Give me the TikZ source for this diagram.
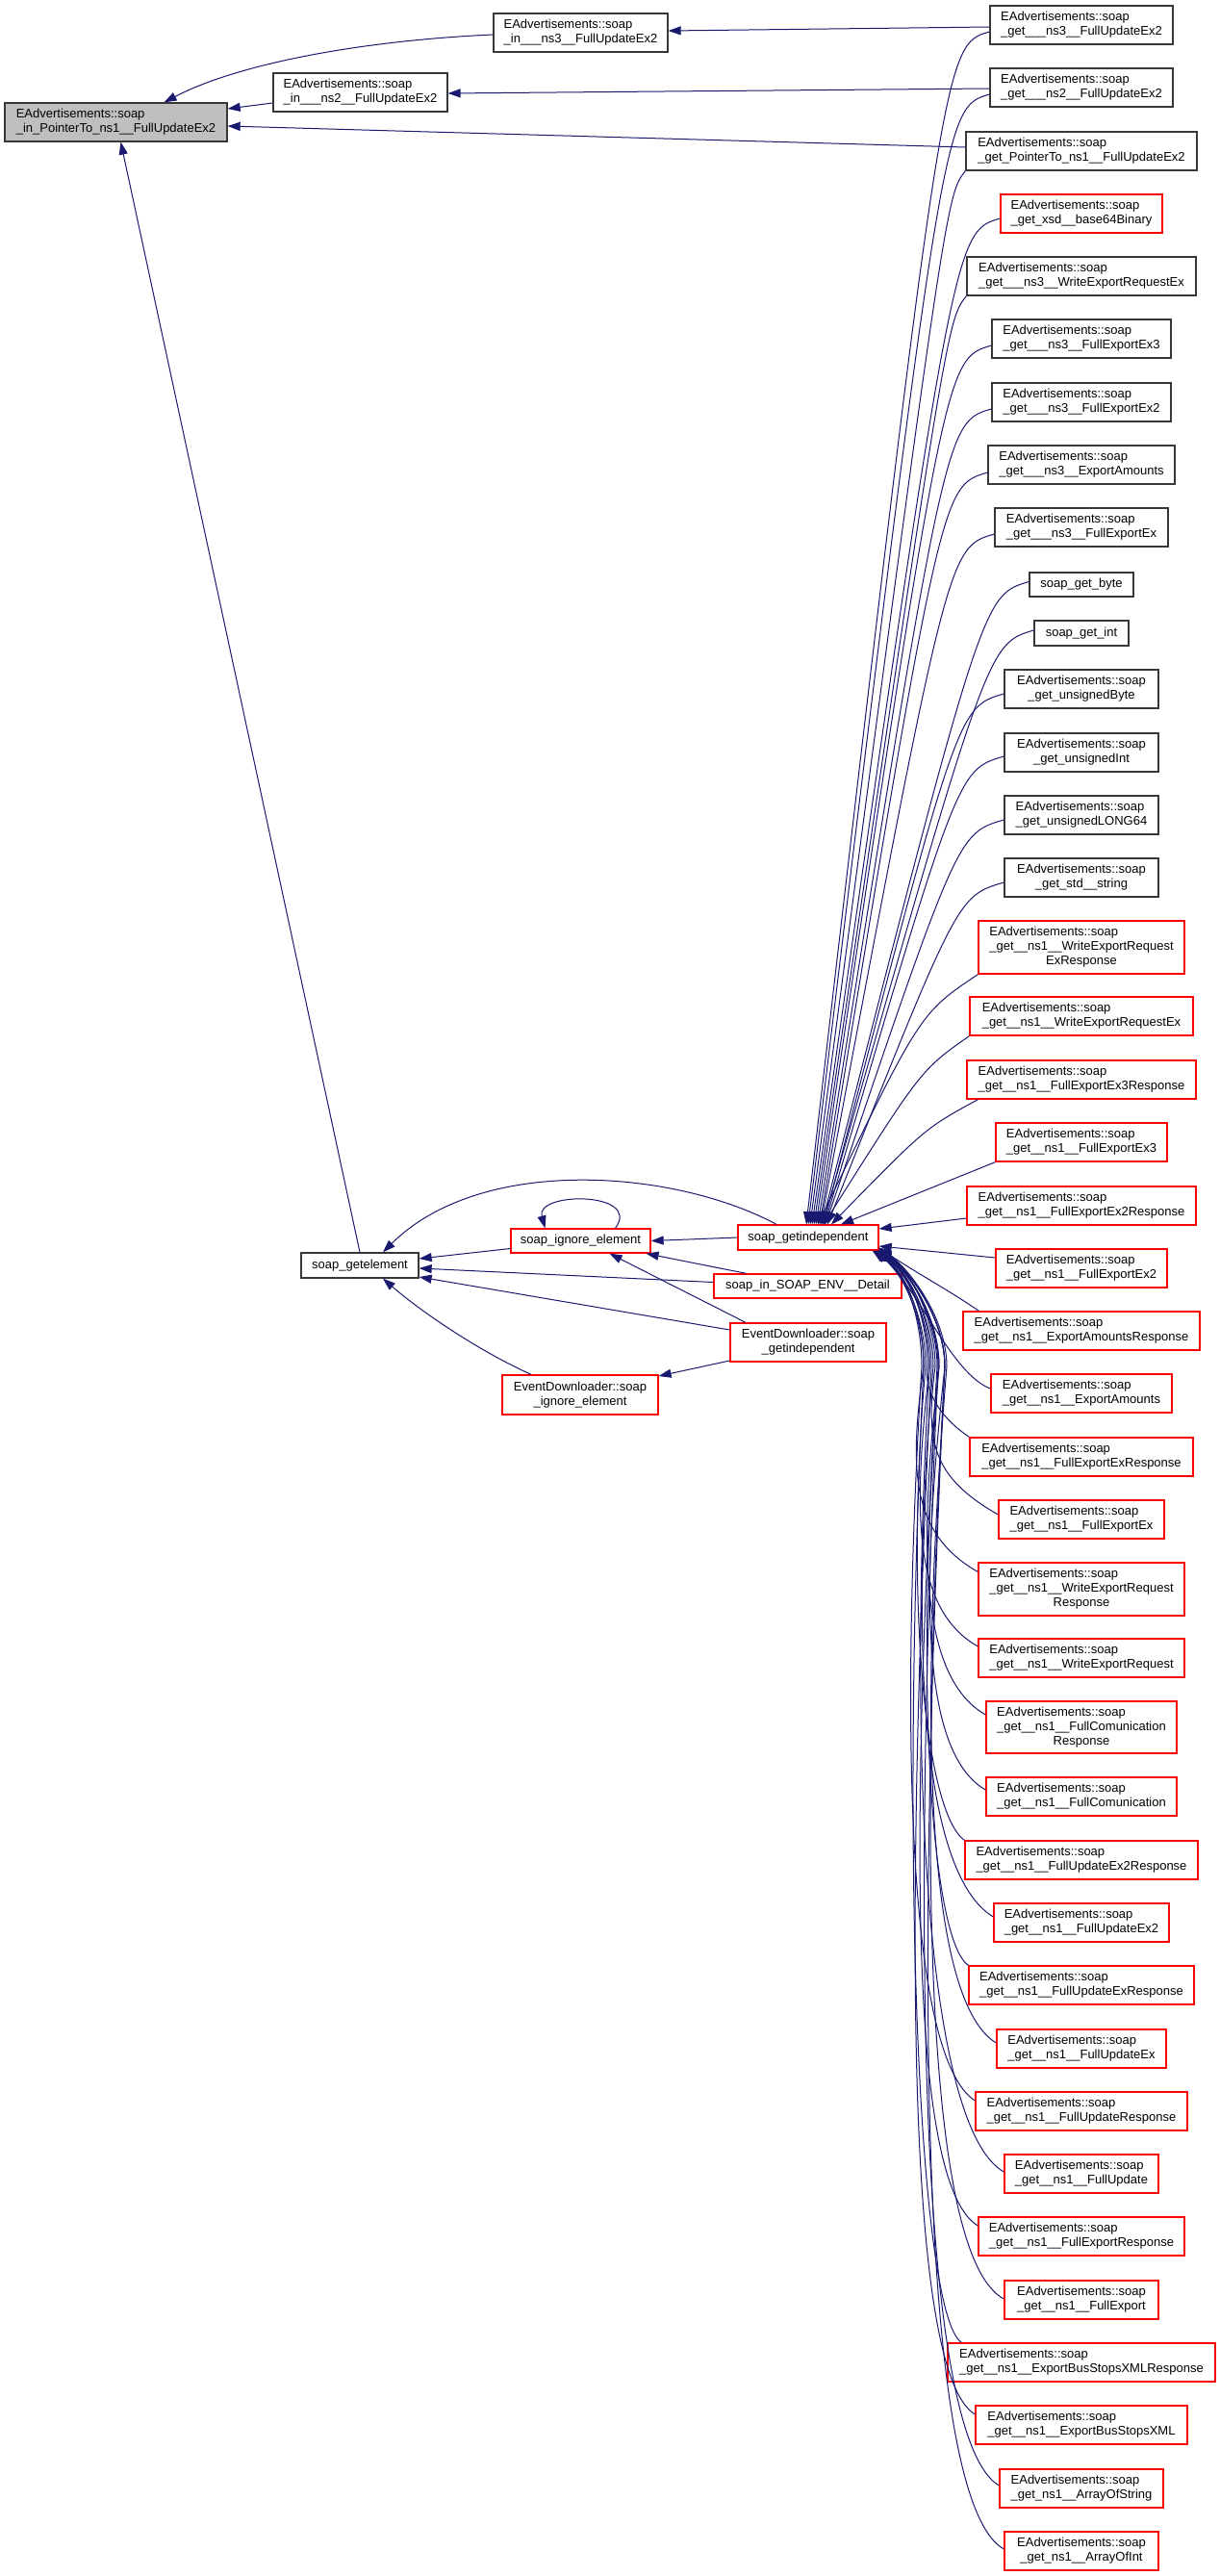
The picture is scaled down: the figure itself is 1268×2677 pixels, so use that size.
\documentclass[tikz,border=0pt]{standalone}
\usepackage{fontspec}
\setmainfont{Liberation Sans}
\usetikzlibrary{arrows.meta,calc}
\definecolor{edgec}{HTML}{191970}
\definecolor{graybox}{HTML}{BFBFBF}
\newcommand{\eaz}[1]{\begin{tabular}{@{}c@{}}\multicolumn{1}{@{}l@{}}{EAdvertisements::soap}\\#1\end{tabular}}
\newcommand{\eazz}[2]{\begin{tabular}{@{}c@{}}\multicolumn{1}{@{}l@{}}{EAdvertisements::soap}\\#1\\#2\end{tabular}}
\newcommand{\edz}[1]{\begin{tabular}{@{}c@{}}EventDownloader::soap\\#1\end{tabular}}
\tikzset{
  box/.style={draw=black!78, line width=1.3pt, rectangle, inner sep=0pt, font=\fontsize{13}{15}\selectfont, minimum height=40pt},
  rbox/.style={box, draw=red},
  edge/.style={draw=edgec, line width=1pt, -{Triangle[length=13pt,width=9pt]}},
}
\newcommand{\upe}[3]{\draw[edge] ([yshift=#2]#1.west) .. controls ($([yshift=#2]#1.west)+(-48,14)$) .. ([xshift=#3]gi.north);}
% #1 start anchor, #2 first control offset, #3 second control, #4 waypoint x, #5 target shift
\newcommand{\lowe}[5]{\draw[edge] (#1) .. controls ($(#1)+#2$) and (#3) .. (#4,1420) .. controls (#4,1372) and ($([#5]gi.south east)+(34,24)$) .. ([#5]gi.south east);}
\begin{document}
\begin{tikzpicture}[x=1pt,y=-1pt]
\fill[white] (0,0) rectangle (1268,2677);
\useasboundingbox (0,0) rectangle (1268,2677);
% left nodes
\node[box, fill=graybox, minimum width=231pt] (main) at (120.5,127) {\eaz{\_in\_PointerTo\_ns1\_\_FullUpdateEx2}};
\node[box, minimum width=181pt] (inns3) at (603.5,34) {\eaz{\_in\_\_\_ns3\_\_FullUpdateEx2}};
\node[box, minimum width=181pt] (inns2) at (374.5,96) {\eaz{\_in\_\_\_ns2\_\_FullUpdateEx2}};
\node[box, minimum width=122pt, minimum height=26pt] (sge) at (374,1315) {soap\_getelement};
\node[rbox, minimum width=145pt, minimum height=25pt] (sie) at (603.5,1289.5) {soap\_ignore\_element};
\node[rbox, minimum width=146pt, minimum height=26pt] (gi) at (840,1286) {soap\_getindependent};
\node[rbox, minimum width=195pt, minimum height=25pt] (det) at (839.5,1336.5) {soap\_in\_SOAP\_ENV\_\_Detail};
\node[rbox, minimum width=162pt] (edgi) at (840,1395) {\edz{\_getindependent}};
\node[rbox, minimum width=162pt, minimum height=41pt] (edie) at (603,1449.5) {\edz{\_ignore\_element}};
% right column
\node[box, minimum width=190pt] (n1) at (1124,26) {\eaz{\_get\_\_\_ns3\_\_FullUpdateEx2}};
\node[box, minimum width=190pt] (n2) at (1124,91) {\eaz{\_get\_\_\_ns2\_\_FullUpdateEx2}};
\node[box, minimum width=240pt] (n3) at (1124,157) {\eaz{\_get\_PointerTo\_ns1\_\_FullUpdateEx2}};
\node[rbox, minimum width=168pt] (n4) at (1124,222) {\eaz{\_get\_xsd\_\_base64Binary}};
\node[box, minimum width=238pt] (n5) at (1124,287) {\eaz{\_get\_\_\_ns3\_\_WriteExportRequestEx}};
\node[box, minimum width=186pt] (n6) at (1124,352) {\eaz{\_get\_\_\_ns3\_\_FullExportEx3}};
\node[box, minimum width=186pt] (n7) at (1124,418) {\eaz{\_get\_\_\_ns3\_\_FullExportEx2}};
\node[box, minimum width=194pt] (n8) at (1124,483) {\eaz{\_get\_\_\_ns3\_\_ExportAmounts}};
\node[box, minimum width=180pt] (n9) at (1124,548) {\eaz{\_get\_\_\_ns3\_\_FullExportEx}};
\node[box, minimum width=108pt, minimum height=25pt] (n10) at (1124,607.5) {soap\_get\_byte};
\node[box, minimum width=98pt, minimum height=26pt] (n11) at (1124,658) {soap\_get\_int};
\node[box, minimum width=160pt] (n12) at (1124,716) {\eaz{\_get\_unsignedByte}};
\node[box, minimum width=160pt] (n13) at (1124,782) {\eaz{\_get\_unsignedInt}};
\node[box, minimum width=160pt] (n14) at (1124,847) {\eaz{\_get\_unsignedLONG64}};
\node[box, minimum width=160pt] (n15) at (1124,912) {\eaz{\_get\_std\_\_string}};
\node[rbox, minimum width=214pt, minimum height=55pt] (n16) at (1124,984.5) {\eazz{\_get\_\_ns1\_\_WriteExportRequest}{ExResponse}};
\node[rbox, minimum width=232pt] (n17) at (1124,1056) {\eaz{\_get\_\_ns1\_\_WriteExportRequestEx}};
\node[rbox, minimum width=238pt] (n18) at (1124,1122) {\eaz{\_get\_\_ns1\_\_FullExportEx3Response}};
\node[rbox, minimum width=178pt] (n19) at (1124,1187) {\eaz{\_get\_\_ns1\_\_FullExportEx3}};
\node[rbox, minimum width=238pt] (n20) at (1124,1253) {\eaz{\_get\_\_ns1\_\_FullExportEx2Response}};
\node[rbox, minimum width=178pt] (n21) at (1124,1318) {\eaz{\_get\_\_ns1\_\_FullExportEx2}};
\node[rbox, minimum width=246pt] (n22) at (1124,1383) {\eaz{\_get\_\_ns1\_\_ExportAmountsResponse}};
\node[rbox, minimum width=188pt] (n23) at (1124,1448) {\eaz{\_get\_\_ns1\_\_ExportAmounts}};
\node[rbox, minimum width=232pt] (n24) at (1124,1514) {\eaz{\_get\_\_ns1\_\_FullExportExResponse}};
\node[rbox, minimum width=172pt] (n25) at (1124,1579) {\eaz{\_get\_\_ns1\_\_FullExportEx}};
\node[rbox, minimum width=214pt, minimum height=55pt] (n26) at (1124,1651.5) {\eazz{\_get\_\_ns1\_\_WriteExportRequest}{Response}};
\node[rbox, minimum width=214pt] (n27) at (1124,1723) {\eaz{\_get\_\_ns1\_\_WriteExportRequest}};
\node[rbox, minimum width=198pt, minimum height=54pt] (n28) at (1124,1795) {\eazz{\_get\_\_ns1\_\_FullComunication}{Response}};
\node[rbox, minimum width=198pt] (n29) at (1124,1867) {\eaz{\_get\_\_ns1\_\_FullComunication}};
\node[rbox, minimum width=242pt] (n30) at (1124,1933) {\eaz{\_get\_\_ns1\_\_FullUpdateEx2Response}};
\node[rbox, minimum width=182pt] (n31) at (1124,1998) {\eaz{\_get\_\_ns1\_\_FullUpdateEx2}};
\node[rbox, minimum width=234pt] (n32) at (1124,2063) {\eaz{\_get\_\_ns1\_\_FullUpdateExResponse}};
\node[rbox, minimum width=176pt] (n33) at (1124,2129) {\eaz{\_get\_\_ns1\_\_FullUpdateEx}};
\node[rbox, minimum width=220pt] (n34) at (1124,2194) {\eaz{\_get\_\_ns1\_\_FullUpdateResponse}};
\node[rbox, minimum width=160pt] (n35) at (1124,2259) {\eaz{\_get\_\_ns1\_\_FullUpdate}};
\node[rbox, minimum width=214pt] (n36) at (1124,2324) {\eaz{\_get\_\_ns1\_\_FullExportResponse}};
\node[rbox, minimum width=160pt] (n37) at (1124,2390) {\eaz{\_get\_\_ns1\_\_FullExport}};
\node[rbox, minimum width=278pt] (n38) at (1124,2455) {\eaz{\_get\_\_ns1\_\_ExportBusStopsXMLResponse}};
\node[rbox, minimum width=220pt] (n39) at (1124,2520) {\eaz{\_get\_\_ns1\_\_ExportBusStopsXML}};
\node[rbox, minimum width=170pt] (n40) at (1124,2586) {\eaz{\_get\_ns1\_\_ArrayOfString}};
\node[rbox, minimum width=160pt] (n41) at (1124,2651) {\eaz{\_get\_ns1\_\_ArrayOfInt}};
% top straight edges
\draw[edge] ([yshift=-2pt]n1.west) -- ([yshift=2pt]inns3.east);
\draw[edge] ([yshift=-1pt]n2.west) -- ([yshift=-1pt]inns2.east);
\draw[edge] ([yshift=4pt]n3.west) -- ([yshift=-4pt]main.east);
\draw[edge] ([yshift=-11pt]inns2.west) -- ([yshift=14pt]main.east);
\draw[edge] ([yshift=-2pt]inns3.west) .. controls (380,42) and (250,65) .. ([xshift=50pt]main.north);
\draw[edge] (sge.north) -- ([xshift=5pt]main.south);
% middle edges
\draw[edge] ([xshift=-33pt]gi.north) .. controls (700,1215) and (500,1200) .. ([xshift=24pt]sge.north);
\draw[edge] (gi.west) -- (sie.east);
\draw[edge] ([xshift=36pt]sie.north) .. controls (668,1238) and (556,1238) .. ([xshift=-37pt]sie.north);
\draw[edge] ([yshift=-8pt]sie.west) -- ([yshift=7pt]sge.east);
\draw[edge] ([xshift=-64pt]det.north) -- ([xshift=68pt]sie.south);
\draw[edge] ([yshift=4pt]det.west) -- ([yshift=-3pt]sge.east);
\draw[edge] ([yshift=13pt]edgi.west) -- ([yshift=-12pt]sge.east);
\draw[edge] ([xshift=-65pt]edgi.north) -- ([xshift=30pt]sie.south);
\draw[edge] ([yshift=-19pt]edgi.west) -- ([yshift=19.5pt]edie.east);
\draw[edge] ([xshift=-51pt]edie.north) .. controls (500,1405) and (440,1365) .. ([xshift=24pt]sge.south);
% upper right edges to gi
\upe{n1}{-7pt}{-2pt}
\upe{n2}{-7pt}{0pt}
\draw[edge] (n3.south west) .. controls ($(n3.south west)+(-20,25)$) .. ([xshift=2pt]gi.north);
\upe{n4}{-5pt}{4pt}
\draw[edge] (n5.south west) .. controls ($(n5.south west)+(-20,25)$) .. ([xshift=6pt]gi.north);
\upe{n6}{-7pt}{8pt}
\upe{n7}{-7pt}{10pt}
\upe{n8}{-8pt}{12pt}
\upe{n9}{-7pt}{13pt}
\upe{n10}{3pt}{14pt}
\upe{n11}{3pt}{15pt}
\upe{n12}{-5pt}{16pt}
\upe{n13}{-4pt}{17pt}
\upe{n14}{-5pt}{18pt}
\upe{n15}{-5pt}{20pt}
\draw[edge] (n16.south west) .. controls ($(n16.south west)+(-60,40)$) .. ([xshift=10pt]gi.north);
\draw[edge] (n17.south west) .. controls ($(n17.south west)+(-50,35)$) .. ([xshift=16pt]gi.north);
\draw[edge] ([xshift=12pt]n18.south west) .. controls ($([xshift=12pt]n18.south west)+(-55,30)$) .. ([xshift=24pt]gi.north);
\draw[edge] (n19.south west) -- ([xshift=34pt]gi.north);
\draw[edge] ([yshift=-13pt]n20.west) -- ([yshift=9pt]gi.east);
\draw[edge] ([yshift=11pt]n21.west) -- ([yshift=-9pt]gi.east);
\draw[edge] ([xshift=17pt]n22.north west) .. controls (985,1340) and ($(gi.south east)+(40,24)$) .. ([yshift=3pt]gi.south east);
% lower right edges to gi
\draw[edge] ([yshift=5pt]n23.west) .. controls ($([yshift=5pt]n23.west)+(-40,-15)$) and ($([xshift=-4pt]gi.south east)+(45,40)$) .. ([xshift=-4pt]gi.south east);
\lowe{n24.north west}{(-30,-20)}{960,1445}{964}{xshift=-1pt}
\lowe{[yshift=5pt]n25.west}{(-70,-40)}{962,1497}{972}{yshift=3pt}
\lowe{[yshift=18pt]n26.west}{(-70,-40)}{945,1527}{960}{xshift=-7pt}
\lowe{[yshift=12pt]n27.west}{(-70,-40)}{950,1565}{966}{xshift=-3pt}
\lowe{[yshift=13pt]n28.west}{(-70,-40)}{955,1601}{976}{xshift=0pt}
\lowe{[yshift=7pt]n29.west}{(-70,-40)}{958,1640}{982}{yshift=2pt}
\lowe{n30.north west}{(-40,-28)}{940,1666}{962}{xshift=-6pt}
\lowe{[yshift=6pt]n31.west}{(-75,-45)}{945,1706}{970}{xshift=-2pt}
\lowe{n32.north west}{(-40,-28)}{950,1731}{976}{xshift=0pt}
\lowe{[yshift=6pt]n33.west}{(-75,-45)}{955,1771}{984}{yshift=3pt}
\lowe{[yshift=11pt]n34.west}{(-70,-45)}{935,1801}{958}{xshift=-5pt}
\lowe{[yshift=2pt]n35.west}{(-80,-45)}{942,1838}{966}{xshift=-2pt}
\lowe{[yshift=11pt]n36.west}{(-75,-45)}{948,1866}{974}{xshift=0pt}
\lowe{[yshift=1pt]n37.west}{(-85,-45)}{955,1904}{982}{yshift=2pt}
\lowe{[xshift=15pt]n38.north west}{(-45,-30)}{935,1927}{960}{xshift=-4pt}
\lowe{[yshift=11pt]n39.west}{(-75,-45)}{942,1965}{968}{xshift=-1pt}
\lowe{[yshift=3pt]n40.west}{(-85,-50)}{948,2001}{975}{xshift=0pt}
\lowe{[yshift=2pt]n41.west}{(-90,-50)}{952,2034}{982}{yshift=1pt}
\end{tikzpicture}
\end{document}
